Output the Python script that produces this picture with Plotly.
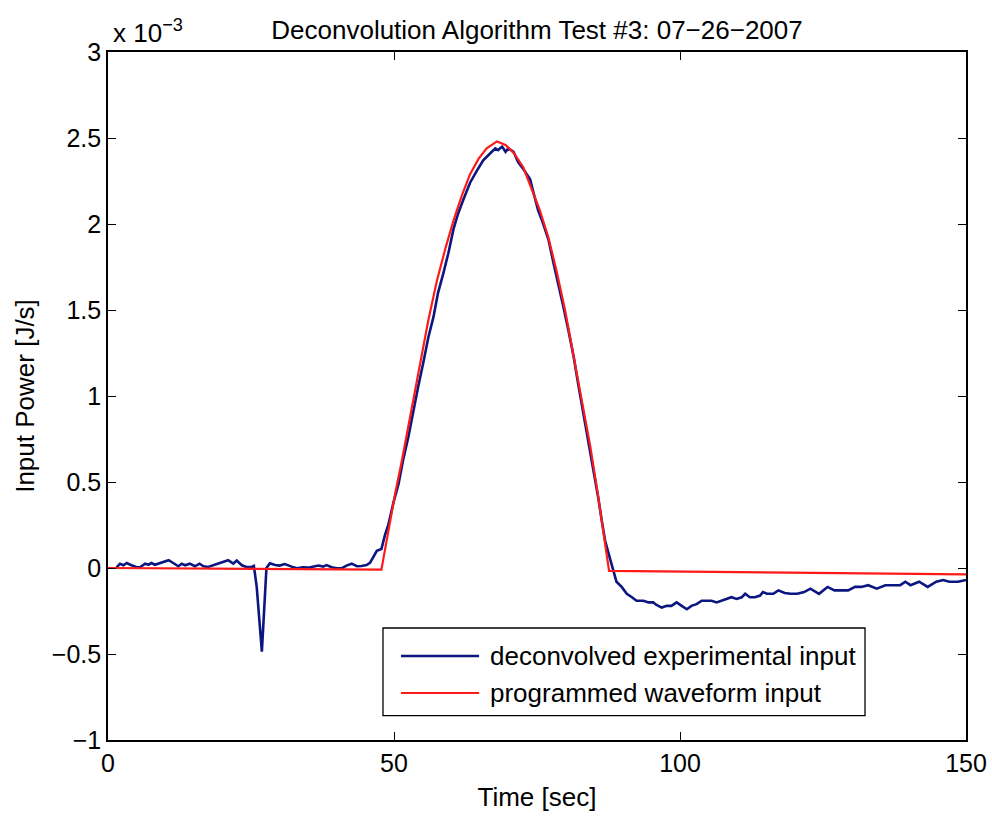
import plotly.graph_objects as go

# ---- data (power in units of 1e-3 J/s) ----
time_exp = [1.5, 2.1, 2.7, 3.3, 3.9, 4.4, 5.0, 5.6, 6.5, 7.1, 7.6, 8.2, 9.1, 10.6, 11.4, 12.3, 12.9, 13.5,
            14.3, 15.2, 16.0, 16.7, 17.5, 18.4, 19.3, 20.2, 21.0, 21.9, 22.5, 23.4, 24.2, 25.1, 25.5, 26.0,
            26.9, 27.7, 28.3, 29.2, 30.0, 30.9, 31.5, 32.1, 33.0, 34.1, 35.0, 35.9, 36.8, 37.6, 38.2, 39.1,
            40.0, 40.8, 41.7, 42.6, 43.5, 44.3, 45.2, 45.8, 46.4, 47.0, 47.8, 48.4, 49.0, 49.9, 50.8, 51.6,
            52.5, 53.4, 54.2, 55.1, 56.0, 56.9, 57.7, 58.6, 59.5, 60.4, 61.2, 62.1, 63.3, 64.5, 65.6, 66.8,
            67.7, 68.2, 68.9, 69.5, 70.0, 70.9, 71.7, 72.6, 73.8, 74.4, 75.2, 76.1, 77.0, 77.9, 78.7, 79.6,
            80.5, 81.4, 82.2, 83.1, 84.0, 84.8, 85.7, 86.3, 86.9, 87.8, 88.3, 88.9, 89.8, 90.7, 91.6, 92.4,
            93.6, 94.5, 95.3, 95.9, 96.8, 97.7, 98.5, 99.4, 100.3, 101.2, 102.0, 102.9, 103.8, 104.7, 105.5,
            106.4, 107.3, 108.2, 109.0, 109.9, 110.8, 111.4, 112.2, 113.1, 114.0, 114.5, 115.2, 116.3, 117.2,
            118.3, 119.3, 120.5, 121.7, 122.8, 124.3, 125.8, 127.0, 128.2, 129.4, 130.6, 131.7, 132.9, 134.4,
            135.9, 137.4, 138.5, 139.4, 140.3, 141.8, 143.3, 144.8, 146.0, 147.1, 148.6, 150.0]
power_exp = [0.004, 0.025, 0.016, 0.029, 0.019, 0.014, 0.004, 0.004, 0.025, 0.019, 0.029, 0.019, 0.029, 0.045,
             0.029, 0.010, 0.025, 0.016, 0.025, 0.010, 0.025, 0.010, 0.006, 0.016, 0.025, 0.035, 0.045, 0.025,
             0.043, 0.016, 0.006, 0.006, 0.012, -0.11, -0.487, 0.0, 0.027, 0.017, 0.014, 0.023, 0.014, 0.008,
             -0.002, 0.004, 0.002, 0.008, 0.014, 0.008, 0.017, 0.004, -0.002, -0.002, 0.014, 0.025, 0.010,
             0.012, 0.017, 0.03, 0.066, 0.10, 0.11, 0.19, 0.25, 0.38, 0.49, 0.63, 0.76, 0.92, 1.05, 1.19, 1.34,
             1.46, 1.60, 1.71, 1.83, 1.97, 2.06, 2.14, 2.24, 2.31, 2.37, 2.41, 2.44, 2.43, 2.45, 2.42, 2.44,
             2.42, 2.36, 2.32, 2.26, 2.18, 2.08, 2.00, 1.91, 1.77, 1.66, 1.52, 1.38, 1.23, 1.07, 0.90, 0.74,
             0.57, 0.41, 0.28, 0.16, 0.05, -0.01, -0.08, -0.11, -0.15, -0.17, -0.19, -0.19, -0.20, -0.20,
             -0.215, -0.23, -0.22, -0.22, -0.20, -0.22, -0.24, -0.22, -0.21, -0.19, -0.19, -0.19, -0.20, -0.19,
             -0.18, -0.17, -0.18, -0.17, -0.15, -0.17, -0.17, -0.16, -0.14, -0.15, -0.15, -0.13, -0.145, -0.15,
             -0.15, -0.14, -0.12, -0.15, -0.11, -0.13, -0.13, -0.13, -0.11, -0.11, -0.10, -0.12, -0.10, -0.10,
             -0.10, -0.08, -0.10, -0.08, -0.11, -0.08, -0.07, -0.08, -0.08, -0.07]

time_prog = [0, 47.8, 48.5, 49.4, 50.3, 51.3, 52.9, 54.5, 56.0, 57.5, 59.0, 60.4, 61.9, 63.3, 64.8, 66.2,
             68.0, 69.5, 71.0, 72.6, 74.0, 75.5, 77.0, 78.4, 79.9, 81.4, 82.9, 84.3, 85.5, 86.6, 87.6, 150]
power_prog = [0, -0.01, 0.12, 0.29, 0.45, 0.61, 0.90, 1.19, 1.44, 1.67, 1.86, 2.02, 2.17, 2.29, 2.38, 2.44,
              2.48, 2.46, 2.41, 2.33, 2.21, 2.08, 1.92, 1.73, 1.50, 1.23, 0.97, 0.71, 0.46, 0.22, -0.017, -0.037]

series_names = ["deconvolved experimental input", "programmed waveform input"]
series_colors = ["#0c1680", "#ff1a1a"]
x_ticks = [0, 50, 100, 150]
y_ticks = [-1, -0.5, 0, 0.5, 1, 1.5, 2, 2.5, 3]
title_text = "Deconvolution Algorithm Test #3: 07−26−2007"
x_label = "Time [sec]"
y_label = "Input Power [J/s]"

FONT = "Liberation Sans, Arial, sans-serif"

fig = go.Figure()
fig.add_trace(go.Scatter(x=time_exp, y=power_exp, mode="lines", name=series_names[0],
                         line=dict(color=series_colors[0], width=2.6), showlegend=False))
fig.add_trace(go.Scatter(x=time_prog, y=power_prog, mode="lines", name=series_names[1],
                         line=dict(color=series_colors[1], width=2.2), showlegend=False))

axis_common = dict(showline=True, linecolor="black", linewidth=1.6, mirror="ticks",
                   ticks="inside", ticklen=8, tickwidth=1.2, tickcolor="black",
                   showgrid=False, zeroline=False, automargin=False,
                   tickfont=dict(family=FONT, size=25, color="black"))

fig.update_xaxes(range=[0, 150], tickvals=x_ticks, ticktext=[str(v) for v in x_ticks],
                 title=dict(text=x_label, font=dict(family=FONT, size=26, color="black"), standoff=12),
                 **axis_common)
fig.update_yaxes(range=[-1, 3], tickvals=y_ticks,
                 ticktext=[("−" + f"{abs(v):g}") if v < 0 else f"{v:g}" for v in y_ticks],
                 title=dict(text=y_label, font=dict(family=FONT, size=26, color="black"), standoff=10),
                 **axis_common)

# legend drawn as box + sample lines + text
lx0, lx1, ly0, ly1 = 0.3205, 0.8823, 0.0355, 0.1628
fig.add_shape(type="rect", xref="paper", yref="paper", x0=lx0, x1=lx1, y0=ly0, y1=ly1,
              line=dict(color="black", width=1.3), fillcolor="white", layer="above")
row_y = [0.1221, 0.0683]
for name, col, yy, w in zip(series_names, series_colors, row_y, [2.6, 2.2]):
    fig.add_shape(type="line", xref="paper", yref="paper", x0=0.3415, x1=0.4325, y0=yy, y1=yy,
                  line=dict(color=col, width=w), layer="above")
    fig.add_annotation(xref="paper", yref="paper", x=0.443, y=yy, text=name, showarrow=False,
                       xanchor="left", yanchor="middle",
                       font=dict(family=FONT, size=26, color="black"))

fig.add_annotation(xref="paper", yref="paper", x=0.004, y=1.0, yshift=2,
                   text="x 10<sup>−3</sup>", showarrow=False, xanchor="left", yanchor="bottom",
                   font=dict(family=FONT, size=26, color="black"))

fig.update_layout(
    width=992, height=819,
    margin=dict(l=108, r=26, t=52, b=79, autoexpand=False),
    paper_bgcolor="white", plot_bgcolor="white",
    title=dict(text=title_text, x=0.5, xref="paper", y=0.963, yanchor="middle",
               font=dict(family=FONT, size=26, color="black")),
    showlegend=False,
)

fig.write_html("out.html")
